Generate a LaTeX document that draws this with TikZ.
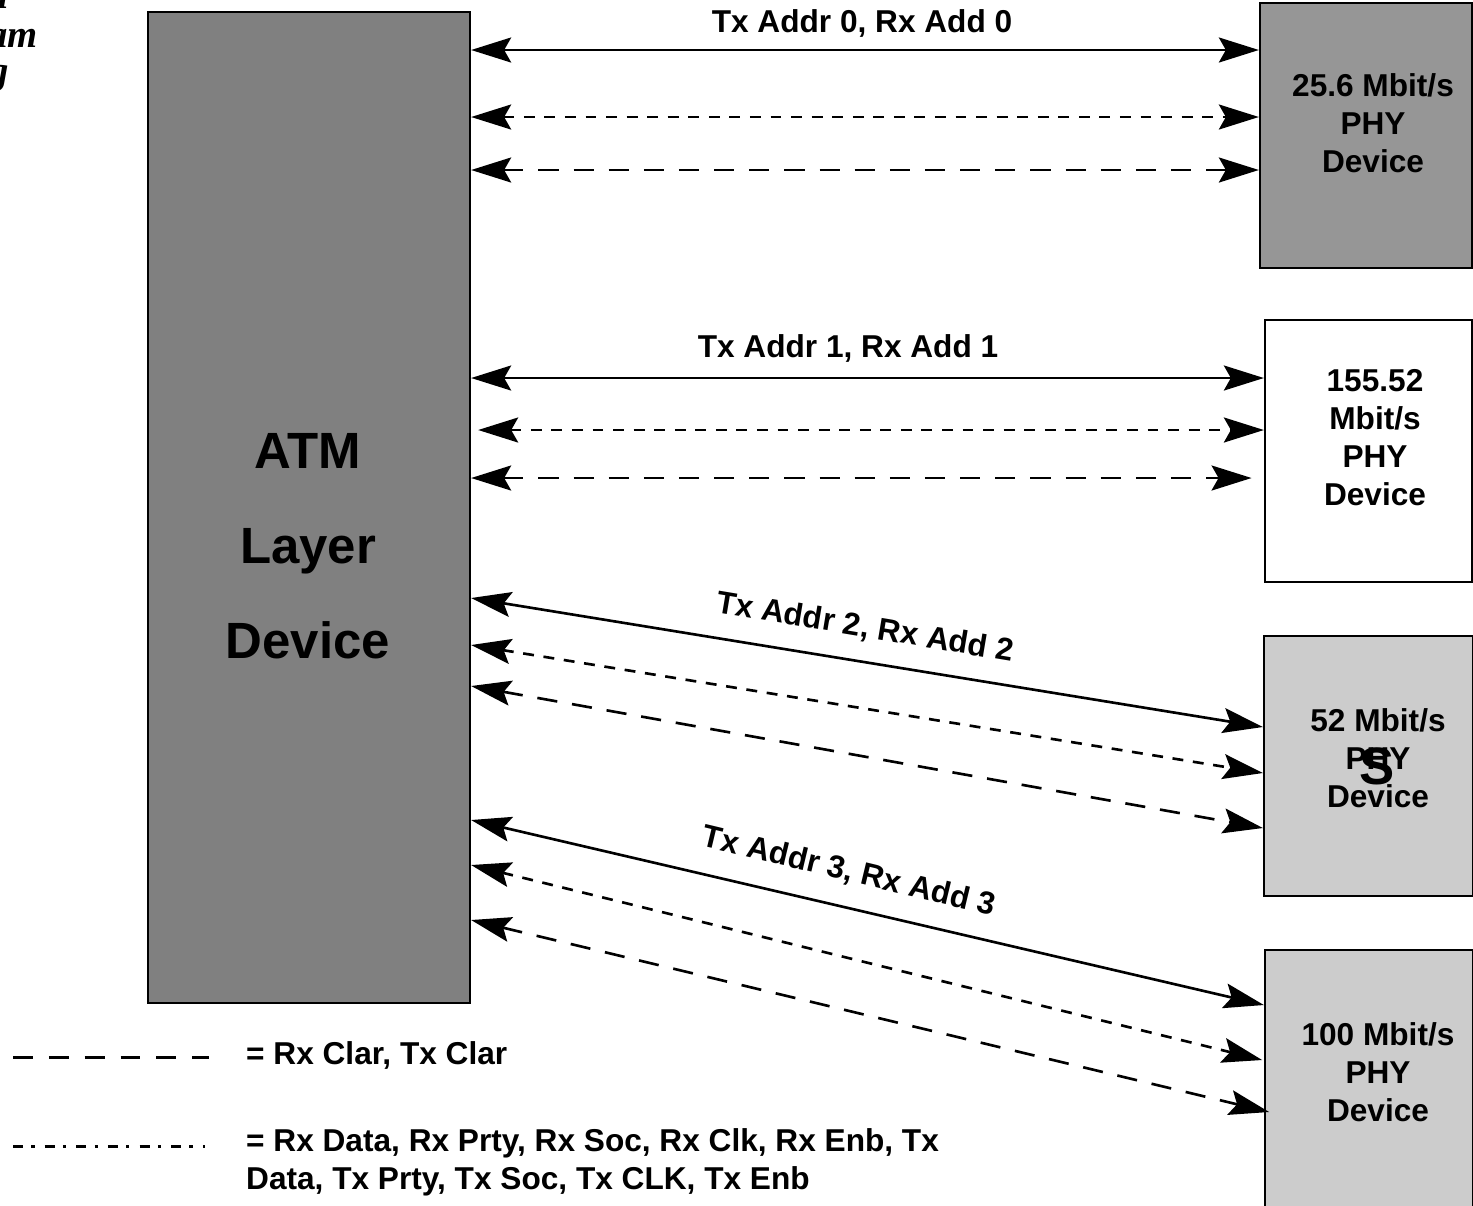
\documentclass[tikz,border=0pt]{standalone}
\usepackage{fontspec}
\setmainfont{Liberation Sans}
\newfontfamily\cutfont{Liberation Serif}
\usetikzlibrary{arrows.meta,positioning,fit}
\definecolor{atmgray}{RGB}{128,128,128}
\definecolor{phydark}{RGB}{150,150,150}
\definecolor{phylight}{RGB}{204,204,204}

\begin{document}
\begin{tikzpicture}[x=0.02cm,y=-0.02cm,
  every node/.style={font=\fontsize{18}{21.6}\selectfont\bfseries,align=center},
  box/.style={draw,line width=1.3pt,inner sep=0pt},
  link/.style={{Stealth[length=0.8cm,width=0.5cm,inset=0.14cm]}-{Stealth[length=0.8cm,width=0.5cm,inset=0.14cm]},line width=1.5pt},
  clarline/.style={link,dash pattern=on 11.5pt off 8.5pt},
  dataline/.style={link,dash pattern=on 6.2pt off 5.5pt},
  clarkey/.style={line width=1.7pt,dash pattern=on 11.3pt off 9.1pt},
  datakey/.style={line width=1.7pt,dash pattern=on 5.7pt off 4.7pt on 1.9pt off 5.7pt},
  cut/.style={anchor=base east,font=\cutfont\fontsize{22}{26}\selectfont\bfseries\itshape}]
  \useasboundingbox (0,0) rectangle (1473,1205);

  \node[cut] (cuta) at (15,8) {m};
  \node[cut] (cutb) at (44,47) {eam};
  \node[cut] (cutc) at (15,83) {g};

  \node[box,fill=atmgray,fit={(148,12) (470,1003)}] (atm) {};
  \node[box,fill=phydark,fit={(1260,3) (1472,268)}] (phya) {};
  \node[box,fill=white,fit={(1265,320) (1472,582)}] (phyb) {};
  \node[box,fill=phylight,fit={(1264,636) (1473,896)}] (phyc) {};
  \node[box,fill=phylight,fit={(1265,950) (1473,1220)}] (phyd) {};

  \node[font=\fontsize{29}{54}\selectfont\bfseries] (atmtxt) at (308,546) {ATM\\Layer\\Device};
  \node (phyatxt) at (1373,123) {25.6 Mbit/s\\PHY\\Device};
  \node (phybtxt) at (1375,438) {155.52\\ Mbit/s\\PHY\\Device};
  \node (phyctxt) at (1378,758) {52 Mbit/s\\PHY\\Device};
  \node[font=\fontsize{30}{34}\selectfont\bfseries] (phycs) at (1377,766) {S};
  \node (phydtxt) at (1378,1072) {100 Mbit/s\\PHY\\Device};

  \draw[link] (atm.east |- 0,50) -- (phya.west |- 0,50);
  \draw[dataline] (atm.east |- 0,117) -- (phya.west |- 0,117);
  \draw[clarline] (atm.east |- 0,170) -- (phya.west |- 0,170);
  \node (lbla) at (862,23) {Tx Addr 0, Rx Add 0};

  \draw[link] (atm.east |- 0,378) -- (phyb.west |- 0,378);
  \draw[dataline] ([xshift=4pt]atm.east |- 0,430) -- (phyb.west |- 0,430);
  \draw[clarline] (atm.east |- 0,478) -- ([xshift=-7pt]phyb.west |- 0,478);
  \node (lblb) at (848,348) {Tx Addr 1, Rx Add 1};

  \draw[link] (atm.east |- 0,598) -- (phyc.west |- 0,727);
  \draw[dataline] (atm.east |- 0,645) -- (phyc.west |- 0,773);
  \draw[clarline] (atm.east |- 0,686) -- (phyc.west |- 0,828);
  \node[rotate=-9.5] (lblc) at (865,628) {Tx Addr 2, Rx Add 2};

  \draw[link] (atm.east |- 0,820) -- (phyd.west |- 0,1005);
  \draw[dataline] (atm.east |- 0,865) -- ([xshift=-1pt]phyd.west |- 0,1060);
  \draw[clarline] (atm.east |- 0,920) -- ([xshift=3pt]phyd.west |- 0,1112);
  \node[rotate=-13.5] (lbld) at (849,872) {Tx Addr 3, Rx Add 3};

  \node[anchor=west] (keyatxt) at (240,1055) {= Rx Clar, Tx Clar};
  \node[anchor=west,align=left] (keybtxt) at (240,1162) {= Rx Data, Rx Prty, Rx Soc, Rx Clk, Rx Enb, Tx\\Data, Tx Prty, Tx Soc, Tx CLK, Tx Enb};
  \coordinate (keya) at (13,1057);
  \coordinate (keyb) at (13,1146);
  \draw[clarkey] (keya) -- (keya -| 209,0);
  \draw[datakey] (keyb) -- (keyb -| 205,0);
\end{tikzpicture}
\end{document}
